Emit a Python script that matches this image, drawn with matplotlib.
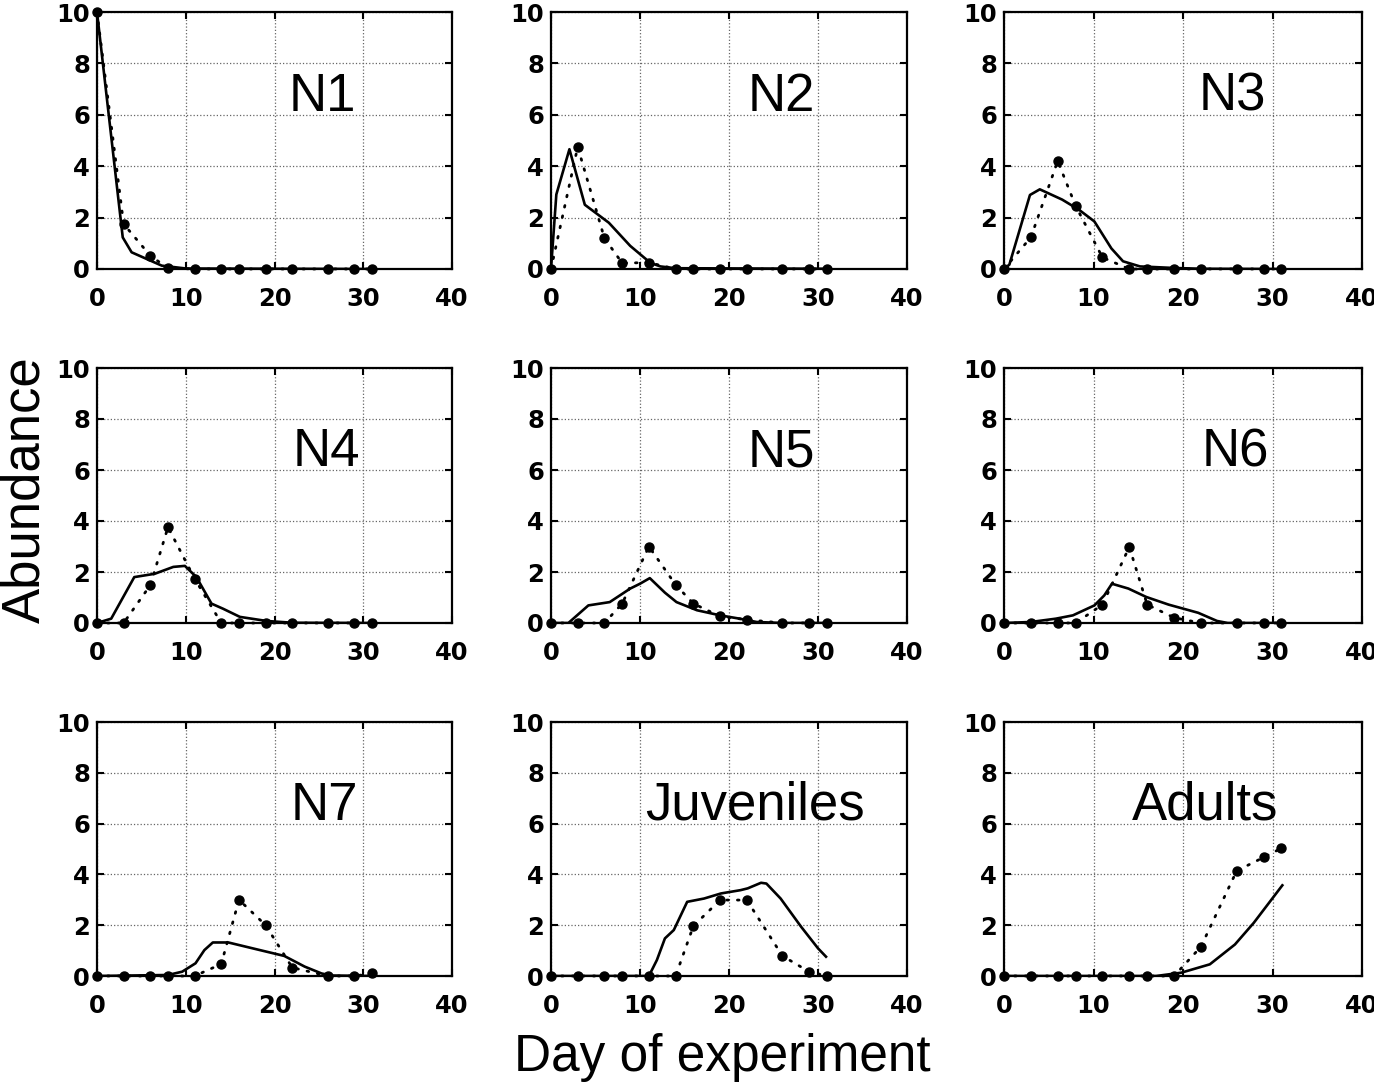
import numpy as np
import matplotlib
matplotlib.use('Agg')
from matplotlib import pyplot as plt

plt.rcParams['font.family'] = ['Liberation Sans', 'DejaVu Sans']

# observation days and observed abundances (dots)
obs_days = [0, 3, 6, 8, 11, 14, 16, 19, 22, 26, 29, 31]
obs_n1 = [10, 1.75, 0.52, 0.03, 0, 0, 0, 0, 0, 0, 0, 0]
obs_n2 = [0, 4.75, 1.2, 0.23, 0.25, 0, 0, 0, 0, 0, 0, 0]
obs_n3 = [0, 1.23, 4.2, 2.46, 0.45, 0, 0, 0, 0, 0, 0, 0]
obs_n4 = [0, 0, 1.48, 3.76, 1.74, 0, 0, 0, 0, 0, 0, 0]
obs_n5 = [0, 0, 0, 0.76, 3.0, 1.5, 0.76, 0.26, 0.13, 0, 0, 0]
obs_n6 = [0, 0, 0, 0, 0.72, 2.98, 0.72, 0.21, 0, 0, 0, 0]
obs_n7 = [0, 0, 0, 0, 0, 0.47, 3.0, 2.0, 0.33, 0, 0, 0.1]
obs_juv = [0, 0, 0, 0, 0, 0, 1.97, 2.99, 2.99, 0.79, 0.17, 0]
obs_adu = [0, 0, 0, 0, 0, 0, 0, 0, 1.15, 4.14, 4.67, 5.03]

# model curves (solid)
mod_x_n1 = [0, 2.9, 3.9, 7.3, 10, 31]
mod_y_n1 = [10, 1.23, 0.65, 0.13, 0.02, 0]
mod_x_n2 = [0, 0.6, 2.07, 3.8, 6.5, 8.9, 11.2, 12.3, 14, 31]
mod_y_n2 = [0, 2.9, 4.66, 2.5, 1.8, 0.9, 0.23, 0.1, 0.03, 0.01]
mod_x_n3 = [0, 0.6, 2.9, 4.0, 6.5, 8.4, 10.1, 12.0, 13.3, 15.2, 19, 22, 31]
mod_y_n3 = [0, 0.17, 2.88, 3.1, 2.7, 2.3, 1.85, 0.8, 0.3, 0.1, 0.04, 0.01, 0]
mod_x_n4 = [0, 1.6, 4.2, 6.5, 8.6, 9.9, 11.2, 12.9, 14.2, 16.1, 19.1, 22, 31]
mod_y_n4 = [0, 0.17, 1.8, 1.93, 2.2, 2.24, 1.8, 0.76, 0.56, 0.24, 0.08, 0.01, 0]
mod_x_n5 = [0, 1.95, 4.2, 6.6, 8.9, 10.0, 11.1, 12.8, 14.1, 16.4, 19.0, 21.2, 23.1, 26, 31]
mod_y_n5 = [0, 0, 0.69, 0.82, 1.35, 1.54, 1.76, 1.19, 0.82, 0.5, 0.3, 0.17, 0.04, 0, 0]
mod_x_n6 = [0, 3, 5.8, 7.7, 10.1, 11.2, 12.06, 13.9, 15.9, 18.4, 21.7, 23.8, 25, 31]
mod_y_n6 = [0, 0.04, 0.17, 0.3, 0.69, 1.08, 1.54, 1.35, 1.02, 0.72, 0.4, 0.08, 0, 0]
mod_x_n7 = [0, 8, 9.6, 11.1, 12.1, 13.05, 14.8, 18, 21.1, 23.4, 25.3, 26.4, 31]
mod_y_n7 = [0, 0.04, 0.17, 0.5, 1.02, 1.32, 1.32, 1.05, 0.79, 0.37, 0.1, 0.02, 0]
mod_x_juv = [0, 11, 11.9, 12.8, 13.8, 15.3, 17.2, 19.1, 21.3, 22.1, 23.6, 24.2, 25.8, 28.1, 30, 30.9]
mod_y_juv = [0, 0, 0.63, 1.48, 1.81, 2.92, 3.05, 3.25, 3.38, 3.45, 3.67, 3.64, 3.05, 1.94, 1.09, 0.76]
mod_x_adu = [0, 17, 19.8, 23, 25.8, 27.9, 31.1]
mod_y_adu = [0, 0, 0.13, 0.46, 1.24, 2.09, 3.57]

stages = ['N1', 'N2', 'N3', 'N4', 'N5', 'N6', 'N7', 'Juveniles', 'Adults']
observed = [obs_n1, obs_n2, obs_n3, obs_n4, obs_n5, obs_n6, obs_n7, obs_juv, obs_adu]
model_x = [mod_x_n1, mod_x_n2, mod_x_n3, mod_x_n4, mod_x_n5, mod_x_n6, mod_x_n7, mod_x_juv, mod_x_adu]
model_y = [mod_y_n1, mod_y_n2, mod_y_n3, mod_y_n4, mod_y_n5, mod_y_n6, mod_y_n7, mod_y_juv, mod_y_adu]

# layout (pixels of a 1374x1091 figure)
W, H = 1374, 1091
col_left = [97, 551, 1004]
col_width = [355, 356, 358]
row_top = [12, 368, 722]
row_bottom = [269, 623, 976]
label_x = [25.4, 25.9, 25.5, 25.9, 25.9, 25.8, 25.6, 22.9, 22.5]

fig = plt.figure(figsize=(W / 100, H / 100), dpi=100)

for i, name in enumerate(stages):
    r, c = divmod(i, 3)
    left = col_left[c] / W
    bottom = 1 - row_bottom[r] / H
    ax = fig.add_axes([left, bottom, col_width[c] / W, (row_bottom[r] - row_top[r]) / H])

    ax.plot(model_x[i], model_y[i], color='black', lw=1.9, solid_joinstyle='round', zorder=3)
    ax.plot(obs_days, observed[i], color='black', lw=2.0, linestyle=(0, (0.6, 3.2)),
            dash_capstyle='round', marker='o', markersize=6.5, clip_on=False, zorder=4)

    ax.set_xlim(0, 40)
    ax.set_ylim(0, 10)
    ax.set_xticks([0, 10, 20, 30, 40])
    ax.set_yticks([0, 2, 4, 6, 8, 10])
    ax.grid(True, color='#666666', linestyle=':', lw=0.9)
    ax.tick_params(direction='in', length=5, width=1.5, top=True, right=True)
    ax.tick_params(axis='x', pad=13)
    ax.tick_params(axis='y', pad=5)
    for lbl in ax.get_xticklabels() + ax.get_yticklabels():
        lbl.set_fontfamily('DejaVu Sans')
        lbl.set_fontweight('bold')
        lbl.set_fontsize(17.5)
    for s in ax.spines.values():
        s.set_linewidth(1.6)

    ax.text(label_x[i], 6.15, name, ha='center', va='baseline', fontsize=38)

fig.text(39 / W, 1 - 490 / H, 'Abundance', rotation=90, rotation_mode='anchor',
         ha='center', va='baseline', fontsize=38)
fig.text(722 / W, 1 - 1057 / H, 'Day of experiment', ha='center', va='center', fontsize=37)

fig.savefig('out.png', dpi=100)
